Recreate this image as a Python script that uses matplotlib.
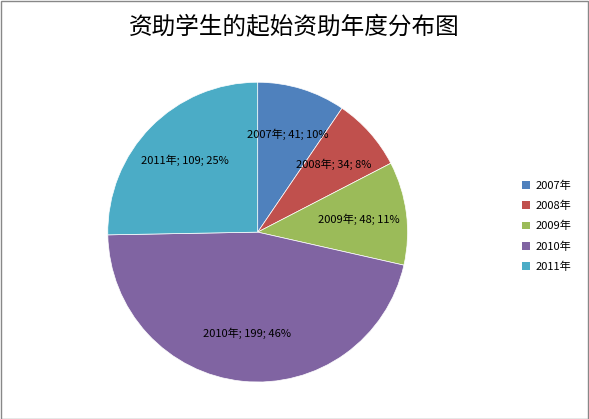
import matplotlib
matplotlib.use("Agg")
import matplotlib.pyplot as plt
from matplotlib.patches import Rectangle

plt.rcParams['font.family'] = ['Noto Sans CJK SC', 'DejaVu Sans']

years = ["2007年", "2008年", "2009年", "2010年", "2011年"]
counts = [41, 34, 48, 199, 109]
colors = ["#4F81BD", "#C0504D", "#9BBB59", "#8064A2", "#4BACC6"]

total = sum(counts)
labels = [f"{y}; {c}; {round(c / total * 100)}%" for y, c in zip(years, counts)]

fig = plt.figure(figsize=(5.89, 4.19), dpi=100)
fig.patches.append(Rectangle((0.001, 0.001), 0.997, 0.996, transform=fig.transFigure,
                             fill=False, edgecolor="#888888", linewidth=1))
ax = fig.add_axes([0.183, 0.088, 0.509, 0.716])
wedges, texts = ax.pie(counts, colors=colors, startangle=90, counterclock=False,
                       labels=labels, labeldistance=0.68,
                       textprops=dict(fontsize=8, color="black"),
                       wedgeprops=dict(edgecolor="white", linewidth=0.5))
for t in texts:
    t.set_ha("center")
    t.set_va("center")
ax.set_xlim(-1, 1)
ax.set_ylim(-1, 1)
ax.set_aspect("equal")

fig.text(0.5, 0.935, "资助学生的起始资助年度分布图", ha="center", va="center", fontsize=17)

handles = [Rectangle((0, 0), 1, 1, facecolor=c) for c in colors]
fig.legend(handles, years, loc="center left", bbox_to_anchor=(0.87, 0.46),
           frameon=False, fontsize=8, handlelength=0.7, handleheight=0.7,
           labelspacing=0.9, handletextpad=0.5)

fig.savefig("out.png", dpi=100)
